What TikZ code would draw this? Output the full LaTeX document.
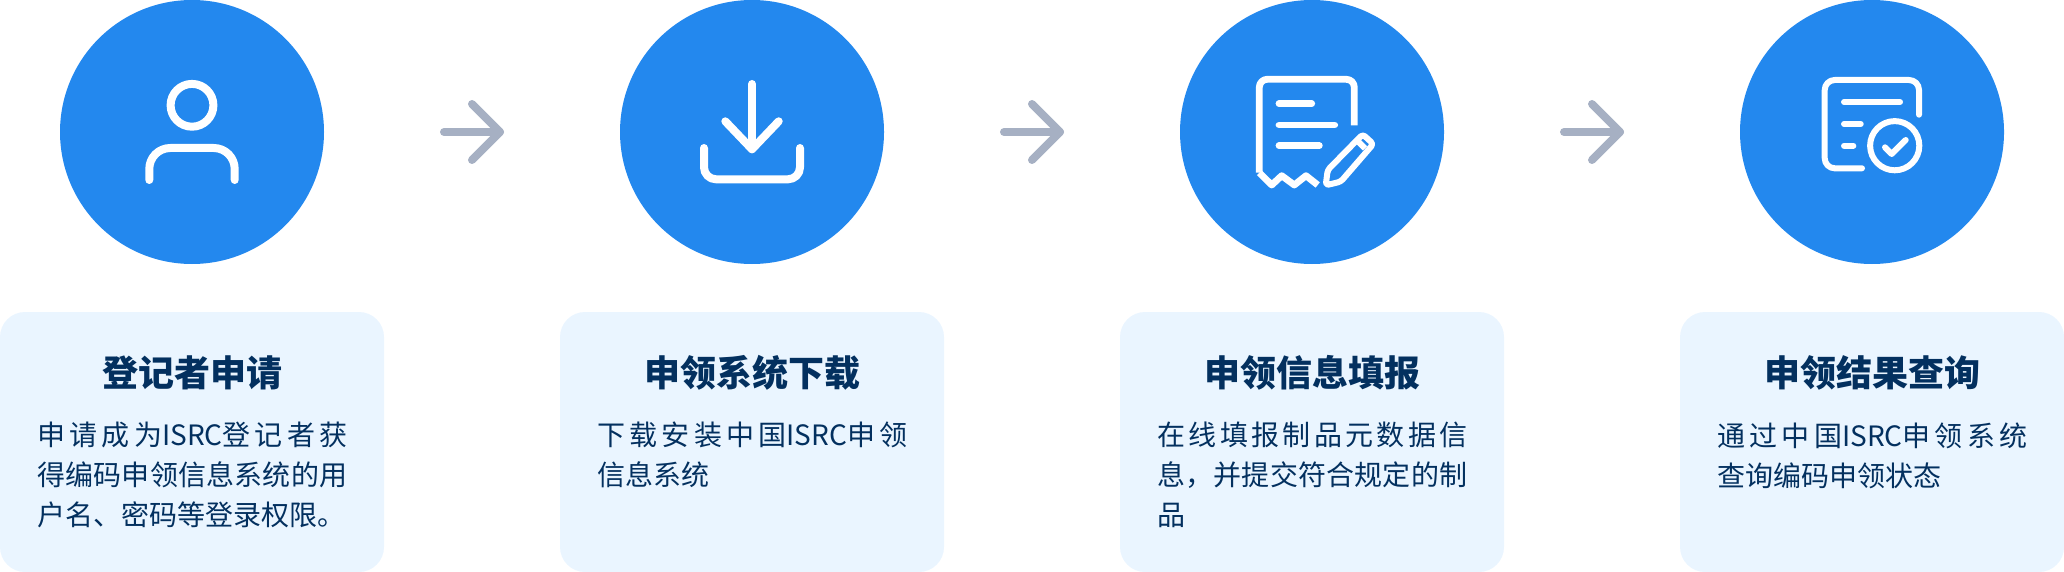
\documentclass[tikz,border=0pt]{standalone}
\usepackage{fontspec}
\setmainfont{Noto Sans CJK SC}
\XeTeXlinebreaklocale "zh"
\XeTeXlinebreakskip=0pt plus 3pt
\definecolor{stepblue}{HTML}{2388EE}
\definecolor{cardblue}{HTML}{EAF5FF}
\definecolor{inkblue}{HTML}{03305F}
\definecolor{flowgrey}{HTML}{A6B0C3}

\begin{document}
\begin{tikzpicture}
        [x=0.5pt, y=-0.5pt,
        disc/.style={draw=none,shape=circle,fill=stepblue,inner sep=0,minimum size=132pt},
        card/.style={draw=none,shape=rectangle,fill=cardblue,rounded corners=12.5pt,inner sep=0,minimum width=192pt,minimum height=130pt},
        heading/.style={inner sep=0,text=inkblue,font=\fontsize{18pt}{22pt}\selectfont\bfseries},
        body/.style={anchor=north west,inner sep=0,text width=155pt,align=justify,text=inkblue,font=\fontsize{14pt}{20pt}\selectfont},
        flow/.style={draw=flowgrey,line width=4pt,line cap=round,line join=round},
        icon/.style={draw=white,line width=4pt,line cap=round,line join=round},
        thin icon/.style={draw=white,line width=3.4pt,line cap=round,line join=round},
        fine icon/.style={draw=white,line width=3pt,line cap=round,line join=round}]

        \useasboundingbox (0, 0) rectangle (2064, 572);

        \node[disc] (disc1) at (192, 132) {};
        \node[disc] (disc2) at (752, 132) {};
        \node[disc] (disc3) at (1312, 132) {};
        \node[disc] (disc4) at (1872, 132) {};

        \node[card] (card1) at (192, 442) {};
        \node[card] (card2) at (752, 442) {};
        \node[card] (card3) at (1312, 442) {};
        \node[card] (card4) at (1872, 442) {};

        \node[heading] (head1) at (192, 373) {登记者申请};
        \node[heading] (head2) at (752, 373) {申领系统下载};
        \node[heading] (head3) at (1312, 373) {申领信息填报};
        \node[heading] (head4) at (1872, 373) {申领结果查询};

        \node[body] (text1) at (37, 422) {申请成为\mbox{ISRC}登记者获\linebreak 得编码申领信息系统的用\linebreak 户名、密码等登录权限。};
        \node[body] (text2) at (597, 422) {下载安装中国\mbox{ISRC}申领\linebreak 信息系统};
        \node[body] (text3) at (1157, 422) {在线填报制品元数据信\linebreak 息，并提交符合规定的制\linebreak 品};
        \node[body] (text4) at (1717, 422) {通过中国\mbox{ISRC}申领系统\linebreak 查询编码申领状态};

        \coordinate (from1) at (444, 132);
        \coordinate (to1) at (500, 132);
        \coordinate (barbA1) at (472, 104);
        \coordinate (barbB1) at (472, 160);
        \coordinate (from2) at (1004, 132);
        \coordinate (to2) at (1060, 132);
        \coordinate (barbA2) at (1032, 104);
        \coordinate (barbB2) at (1032, 160);
        \coordinate (from3) at (1564, 132);
        \coordinate (to3) at (1620, 132);
        \coordinate (barbA3) at (1592, 104);
        \coordinate (barbB3) at (1592, 160);

        \draw[flow] (from1) -- (to1);
        \draw[flow] (barbA1) -- (to1) -- (barbB1);
        \draw[flow] (from2) -- (to2);
        \draw[flow] (barbA2) -- (to2) -- (barbB2);
        \draw[flow] (from3) -- (to3);
        \draw[flow] (barbA3) -- (to3) -- (barbB3);

        \draw[icon] (192, 105.3) circle (10.7pt);
        \draw[icon, rounded corners=10.5pt] (149.3, 180) -- (149.3, 148) -- (234.7, 148) -- (234.7, 180);

        \draw[icon] (752, 84) -- (752, 149.3);
        \draw[icon] (725.3, 121.3) -- (752, 149.3) -- (778.7, 121.3);
        \draw[icon, rounded corners=6pt] (704, 148) -- (704, 179.3) -- (800, 179.3) -- (800, 148);

        \draw[thin icon, line cap=butt, rounded corners=4pt] (1354.3, 125.3) -- (1354.3, 79.3) -- (1259.3, 79.3) -- (1259.3, 172.7);
        \draw[thin icon, line cap=butt] (1259.3, 172.7) -- (1271.7, 185) -- (1281.7, 175.7) -- (1294.3, 185) -- (1306, 175.7) -- (1317.7, 185);
        \draw[thin icon] (1279, 103.7) -- (1311.7, 103.7);
        \draw[thin icon] (1279, 125) -- (1334.7, 125);
        \draw[thin icon] (1279, 145.7) -- (1319.3, 145.7);
        \draw[fine icon, rounded corners=1.5pt] (1325.7, 185.3) -- (1327.7, 170) -- (1362.7, 134.3) -- (1373.3, 144) -- (1340.7, 181.7) -- cycle;
        \draw[fine icon, line cap=butt] (1356.7, 140) -- (1365, 148.3);

        \draw[fine icon, rounded corners=5pt] (1919, 114.7) -- (1919, 80) -- (1824.7, 80) -- (1824.7, 168.3) -- (1862, 168.3);
        \draw[fine icon] (1844, 102) -- (1900, 102);
        \draw[fine icon] (1844, 124) -- (1860.7, 124);
        \draw[fine icon] (1844, 145.7) -- (1853.3, 145.7);
        \draw[fine icon] (1894.7, 145.7) circle (12.3pt);
        \draw[fine icon] (1885, 147.3) -- (1891.7, 154) -- (1905.7, 140);

      \end{tikzpicture}
\end{document}
